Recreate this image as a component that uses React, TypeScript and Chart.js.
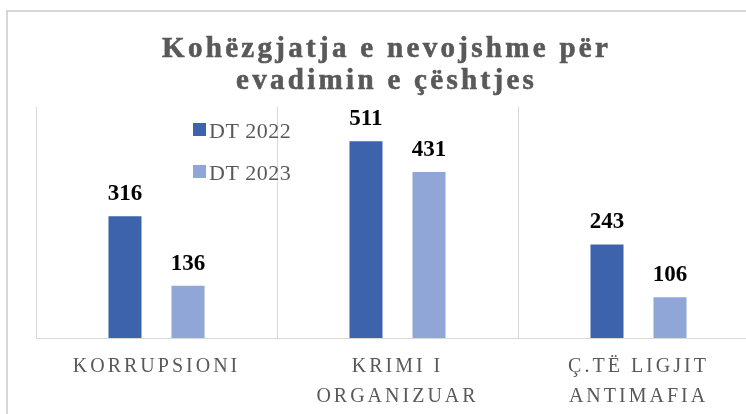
import React, { useEffect, useRef } from "react";
import { Chart, registerables } from "chart.js";

Chart.register(...registerables);

const categories: string[][] = [["KORRUPSIONI"], ["KRIMI I", "ORGANIZUAR"], ["Ç.TË LIGJIT", "ANTIMAFIA"]];
const seriesNames = ["DT 2022", "DT 2023"];
const dt2022 = [316, 511, 243];
const dt2023 = [136, 431, 106];
const titleLines = ["Kohëzgjatja e nevojshme për", "evadimin e çështjes"];
const seriesColors = ["#3C63AC", "#8FA6D6"];
const yMax = 600;

const CW = 800;
const CH = 430;

const decorPlugin = {
  id: "decor",
  beforeDraw(chart: any) {
    const ctx = chart.ctx as CanvasRenderingContext2D;
    ctx.save();
    ctx.fillStyle = "#d6d6d6";
    ctx.fillRect(6, 10, 2, CH);
    ctx.fillRect(6, 10, CW, 2);
    ctx.restore();
    (ctx as any).letterSpacing = "3px";
  },
  afterDraw(chart: any) {
    const ctx = chart.ctx as CanvasRenderingContext2D;
    (ctx as any).letterSpacing = "0px";

    // title
    ctx.save();
    ctx.fillStyle = "#595959";
    ctx.strokeStyle = "#595959";
    ctx.lineWidth = 0.6;
    ctx.font = 'bold 29px "Liberation Serif"';
    (ctx as any).letterSpacing = "3.3px";
    ctx.textAlign = "center";
    ctx.textBaseline = "alphabetic";
    ctx.fillText(titleLines[0], 385 + 1.6, 57);
    ctx.strokeText(titleLines[0], 385 + 1.6, 57);
    ctx.fillText(titleLines[1], 385 + 1.6, 89);
    ctx.strokeText(titleLines[1], 385 + 1.6, 89);
    ctx.restore();

    // legend
    ctx.save();
    ctx.font = '22px "Liberation Serif"';
    (ctx as any).letterSpacing = "0.5px";
    ctx.textAlign = "left";
    ctx.textBaseline = "alphabetic";
    chart.data.datasets.forEach((ds: any, i: number) => {
      const y = 138 + i * 42;
      ctx.fillStyle = ds.backgroundColor;
      ctx.fillRect(193, y - 15, 13, 13);
      ctx.fillStyle = "#595959";
      ctx.fillText(ds.label, 209, y);
    });
    ctx.restore();

    // data labels
    ctx.save();
    ctx.font = 'bold 23px "Liberation Serif"';
    (ctx as any).letterSpacing = "0px";
    ctx.fillStyle = "#000000";
    ctx.textAlign = "center";
    ctx.textBaseline = "alphabetic";
    chart.data.datasets.forEach((ds: any, i: number) => {
      const meta = chart.getDatasetMeta(i);
      meta.data.forEach((el: any, j: number) => {
        ctx.fillText(String(ds.data[j]), el.x, el.y - 16);
      });
    });
    ctx.restore();
  },
};

export default function App() {
  const ref = useRef<HTMLCanvasElement | null>(null);

  useEffect(() => {
    if (!ref.current) return;
    const chart = new Chart(ref.current, {
      type: "bar",
      data: {
        labels: categories,
        datasets: [
          {
            label: seriesNames[0],
            data: dt2022,
            backgroundColor: seriesColors[0],
            categoryPercentage: 0.523,
            barPercentage: 0.524,
          },
          {
            label: seriesNames[1],
            data: dt2023,
            backgroundColor: seriesColors[1],
            categoryPercentage: 0.523,
            barPercentage: 0.524,
          },
        ],
      },
      options: {
        responsive: false,
        animation: false,
        devicePixelRatio: 1,
        layout: { padding: { left: 36, right: 41, top: 107, bottom: 4 } },
        plugins: {
          legend: { display: false },
          title: { display: false },
          tooltip: { enabled: false },
        },
        scales: {
          x: {
            grid: { offset: true, color: "#d9d9d9", drawTicks: false, lineWidth: 1 },
            border: { color: "#d9d9d9", width: 1 },
            ticks: {
              color: "#595959",
              font: { family: '"Liberation Serif"', size: 20, lineHeight: 1.5 },
              padding: 14,
              maxRotation: 0,
              minRotation: 0,
              autoSkip: false,
            },
          },
          y: { display: false, min: 0, max: yMax },
        },
      },
      plugins: [decorPlugin],
    } as any);
    return () => chart.destroy();
  }, []);

  return (
    <>
      <style>{"html,body{overflow:hidden;background:#fff;}"}</style>
      <div style={{ position: "fixed", left: 0, top: 0, width: CW, height: CH }}>
        <canvas ref={ref} width={CW} height={CH} style={{ width: CW, height: CH, display: "block" }} />
      </div>
    </>
  );
}
